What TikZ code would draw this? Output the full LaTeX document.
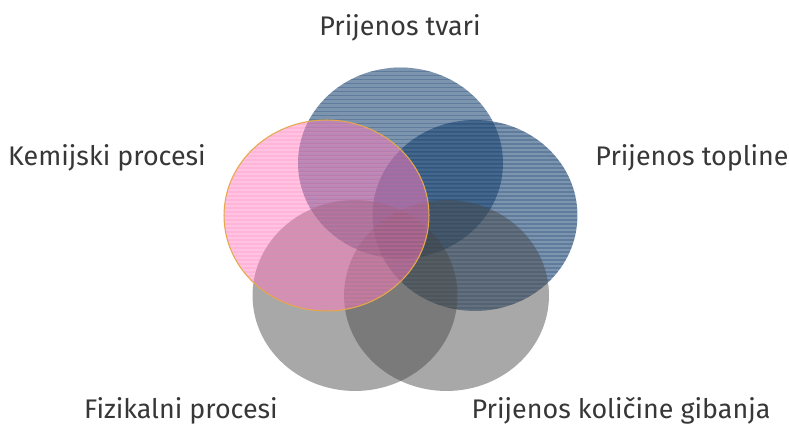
\documentclass[tikz,border=0pt]{standalone}
\usepackage{fontspec}
\setmainfont{Fira Sans}
\usetikzlibrary{shapes.geometric}

\definecolor{tvariblue}{RGB}{30,70,115}
\definecolor{vennpink}{RGB}{255,124,190}
\definecolor{venngrey}{RGB}{70,70,70}
\definecolor{rimorange}{RGB}{230,168,74}
\definecolor{labelgrey}{RGB}{55,55,55}

\begin{document}
\begin{tikzpicture}[x=0.02cm, y=-0.02cm]
\tikzset{font=\fontsize{15.3}{17}\selectfont}
\tikzset{label/.style={text=labelgrey, inner sep=0pt}}
\tikzset{stripes/.style={path picture={
  \foreach \k in {0,...,49}
    \draw[#1, line width=0.7pt] ([yshift=-\k*0.08cm]path picture bounding box.north west) -- ([yshift=-\k*0.08cm]path picture bounding box.north east);}}}
\tikzset{venn/.style={ellipse, minimum width=4.1cm, minimum height=3.82cm, inner sep=0pt}}
\tikzset{bluevenn/.style={venn, fill=tvariblue, fill opacity=0.58, stripes={tvariblue, draw opacity=0.3}}}
\tikzset{greyvenn/.style={venn, fill=venngrey, fill opacity=0.47}}
\tikzset{pinkvenn/.style={venn, fill=vennpink, fill opacity=0.46, draw=rimorange, line width=0.6pt, stripes={vennpink, draw opacity=0.2}}}
\useasboundingbox (0,0) rectangle (789,425);
% circles
\node[bluevenn] (tvari) at (400.5,163) {};
\node[bluevenn] (topline) at (475,215.5) {};
\node[greyvenn] (fizikalni) at (355,295.5) {};
\node[greyvenn] (kolicine) at (446.5,295.5) {};
\node[pinkvenn] (kemijski) at (326.5,215.5) {};
% labels
\node[label] (tvarilbl) at (400,28) {Prijenos tvari};
\node[label] (kemijskilbl) at (107,158) {Kemijski procesi};
\node[label] (toplinelbl) at (692,158) {Prijenos topline};
\node[label] (fizikalnilbl) at (181,411) {Fizikalni procesi};
\node[label] (kolicinelbl) at (621,411) {Prijenos količine gibanja};
\end{tikzpicture}
\end{document}
